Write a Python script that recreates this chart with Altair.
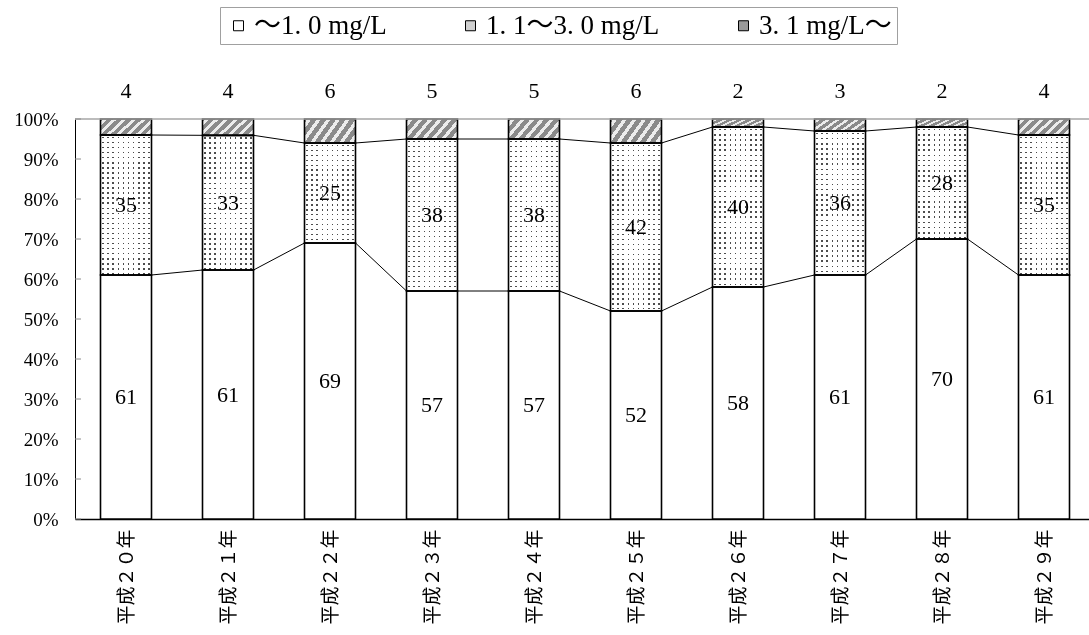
import json

import altair as alt
import pandas as pd

# Survey years (Heisei era) and the three concentration classes
years = ['平成２０年', '平成２１年', '平成２２年', '平成２３年', '平成２４年',
         '平成２５年', '平成２６年', '平成２７年', '平成２８年', '平成２９年']
series = ['～1. 0 mg/L', '1. 1～3. 0 mg/L', '3. 1 mg/L～']

# Counts per class for each year
low = [61, 61, 69, 57, 57, 52, 58, 61, 70, 61]
mid = [35, 33, 25, 38, 38, 42, 40, 36, 28, 35]
high = [4, 4, 6, 5, 5, 6, 2, 3, 2, 4]

y_ticks = [0, 0.1, 0.2, 0.3, 0.4, 0.5, 0.6, 0.7, 0.8, 0.9, 1.0]

rows = []
for i, year in enumerate(years):
    for k, vals in enumerate([low, mid, high]):
        rows.append({'idx': i, 'year': year, 'series': series[k],
                     'order': k, 'value': vals[i]})
df = pd.DataFrame(rows)

SERIF = "'Liberation Serif', 'Noto Sans CJK JP', serif"
PLOT_W, PLOT_H = 1014, 400
STEP = 102          # pixels per category
HALF = 0.25         # half bar width, in category units


def stripes(n, frac, on, off):
    """Hard-edged repeating stops: n bands of colour `on` covering `frac` of each period."""
    stops = [{'offset': 0, 'color': off}]
    for k in range(n):
        s = round((k + (1 - frac) / 2) / n, 5)
        e = round((k + (1 + frac) / 2) / n, 5)
        stops += [{'offset': s, 'color': off}, {'offset': s, 'color': on},
                  {'offset': e, 'color': on}, {'offset': e, 'color': off}]
    stops.append({'offset': 1, 'color': off})
    return stops


# dotted fill = vertical stripes screened with horizontal stripes
v_stripes = {'gradient': 'linear', 'x1': 0, 'y1': 0, 'x2': 1, 'y2': 0,
             'stops': stripes(10, 0.3, '#2a2a2a', '#ffffff')}
h_stripes = {'gradient': 'linear', 'x1': 0, 'y1': 0, 'x2': 0, 'y2': 1,
             'stops': stripes(76, 0.3, '#2a2a2a', '#ffffff')}
# diagonal hatch for the top class
hatch = {'gradient': 'linear', 'x1': 0, 'y1': 0, 'x2': 1.2, 'y2': 0.4,
         'stops': stripes(7, 0.42, '#ececec', '#8a8a8a')}

x_scale = alt.Scale(domain=[-0.5, PLOT_W / STEP - 0.5], nice=False, zero=False)
y_scale = alt.Scale(domain=[0, 1], nice=False)

x_axis = alt.Axis(values=list(range(len(years))),
                  labelExpr=json.dumps(years, ensure_ascii=False) + '[datum.value]',
                  labelAngle=270, labelAlign='right', labelBaseline='middle',
                  labelPadding=10, labelFont=SERIF, labelFontSize=19, labelColor='black',
                  ticks=False, grid=False, domainColor='black', domainWidth=1.5, title='')
y_axis = alt.Axis(values=y_ticks, format='.0%', grid=False, ticks=False,
                  labelFont=SERIF, labelFontSize=19, labelColor='black', labelPadding=17,
                  domainColor='black', domainWidth=1, title='')


def X(field):
    return alt.X(field, type='quantitative', scale=x_scale, axis=x_axis)


def Y(field):
    return alt.Y(field, type='quantitative', scale=y_scale, axis=y_axis)


base = alt.Chart(df).transform_stack(
    stack='value', groupby=['idx'], as_=['y0', 'y1'], offset='normalize',
    sort=[alt.SortField('order', order='ascending')]
).transform_calculate(
    xl=f'datum.idx - {HALF}', xr=f'datum.idx + {HALF}',
    ym='(datum.y0 + datum.y1) / 2', zero='0', top='1'
)

flat = base.mark_rect().encode(
    x=X('xl'), x2='xr', y=Y('y0'), y2='y1',
    color=alt.Color('series:N',
                    scale=alt.Scale(domain=series, range=['#ffffff', '#d0d0d0', '#9a9a9a']),
                    legend=alt.Legend(orient='none', legendX=145, legendY=-112,
                                      direction='horizontal', title='',
                                      symbolType='square', symbolSize=100,
                                      symbolStrokeColor='black', symbolStrokeWidth=1,
                                      labelFont=SERIF, labelFontSize=27, labelColor='black',
                                      labelLimit=400, labelOffset=2, columnPadding=70,
                                      padding=5, strokeColor='#a0a0a0', fillColor='white'))
)

mid_v = base.transform_filter('datum.order == 1').mark_rect(fill=v_stripes).encode(
    x=X('xl'), x2='xr', y=Y('y0'), y2='y1')
mid_h = base.transform_filter('datum.order == 1').mark_rect(fill=h_stripes, blend='screen').encode(
    x=X('xl'), x2='xr', y=Y('zero'), y2='y1')
top_hatch = base.transform_filter('datum.order == 2').mark_rect(fill=hatch).encode(
    x=X('xl'), x2='xr', y=Y('y0'), y2='y1')

# series lines joining the tops of the first two classes
links = base.transform_filter('datum.order < 2').transform_fold(
    ['xl', 'xr'], as_=['edge', 'xe']
).mark_line(color='black', strokeWidth=1).encode(
    x=X('xe:Q'), y=Y('y1'), detail='series:N', order='xe:Q')

outlines = base.mark_rect(filled=False, stroke='black', strokeWidth=1.6).encode(
    x=X('xl'), x2='xr', y=Y('y0'), y2='y1')

inner_labels = base.transform_filter('datum.order < 2').mark_text(
    font=SERIF, fontSize=22, color='black', baseline='middle').encode(
    x=X('idx'), y=Y('ym'), text='value:Q')
top_labels = base.transform_filter('datum.order == 2').mark_text(
    font=SERIF, fontSize=22, color='black', baseline='middle', dy=-28).encode(
    x=X('idx'), y=Y('top'), text='value:Q')

top_line = alt.Chart(pd.DataFrame({'t': [1]})).mark_rule(
    color='#a6a6a6', strokeWidth=1.5).encode(y=Y('t'))
ticks = alt.Chart(pd.DataFrame({'t': y_ticks})).mark_rule(
    color='#8c8c8c', strokeWidth=1).encode(y=Y('t'), x=alt.value(0), x2=alt.value(6))

chart = alt.layer(
    flat, mid_v, mid_h, top_hatch, links, outlines, top_line, ticks, inner_labels, top_labels
).properties(
    width=PLOT_W, height=PLOT_H,
    padding={'left': 75, 'top': 119, 'right': 0, 'bottom': 116},
    autosize=alt.AutoSizeParams(type='none'),
    background='white'
).configure_view(stroke='transparent')

chart.save('out.html', embed_options={'renderer': 'svg', 'actions': False})
